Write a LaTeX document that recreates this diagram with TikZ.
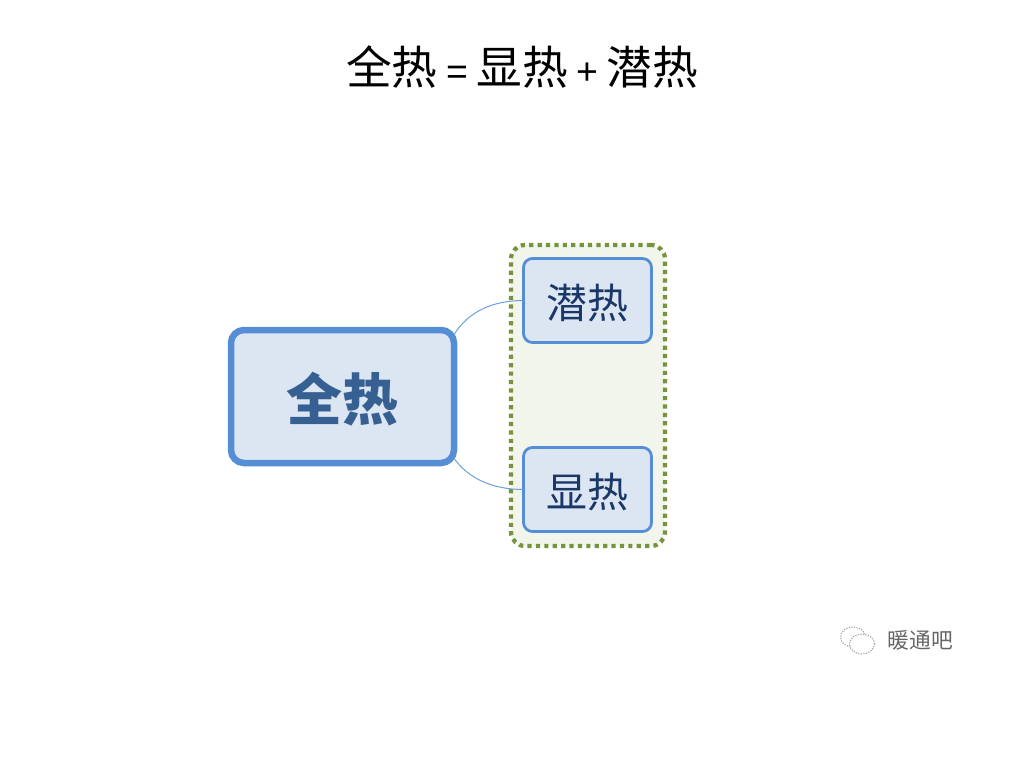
\documentclass[tikz,border=0pt]{standalone}
\usepackage{fontspec}
\setmainfont{Liberation Sans}
\newfontfamily\cjk{Noto Sans CJK SC}
\definecolor{boxblue}{HTML}{558ED5}
\definecolor{boxfill}{HTML}{DCE6F2}
\definecolor{groupgreen}{HTML}{77933C}
\definecolor{groupfill}{HTML}{F2F5EC}
\definecolor{roottext}{HTML}{376092}
\definecolor{leaftext}{HTML}{1A3768}
\tikzset{
  rootbox/.style={draw=boxblue, fill=boxfill, line width=0.065in, rounded corners=0.13in, minimum width=2.23in, minimum height=1.33in, inner sep=0, outer sep=0, text=roottext, text height=0.47in, text depth=0in, font=\cjk\bfseries\fontsize{40.5}{48}\selectfont},
  leafbox/.style={draw=boxblue, fill=boxfill, line width=0.028in, rounded corners=0.09in, minimum width=1.28in, minimum height=0.84in, inner sep=0, outer sep=0, text=leaftext, text height=0.35in, text depth=0in, font=\cjk\fontsize{29.6}{36}\selectfont},
  groupbox/.style={draw=groupgreen, fill=groupfill, line width=0.042in, dash pattern=on 0.042in off 0.042in, rounded corners=0.14in, minimum width=1.54in, minimum height=3.01in, inner sep=0, outer sep=0},
  linkline/.style={draw=boxblue!85, line width=0.01in}
}
\newcommand{\titlegap}{\hspace{0.085in}}
\newcommand{\titlecjk}[1]{{\cjk\fontsize{33}{40}\selectfont #1}}
\begin{document}
\begin{tikzpicture}[x=1in,y=1in]
\useasboundingbox (0,-7.68) rectangle (10.24,0);
\node[font=\fontsize{27}{40}\selectfont] (title) at (5.22,-0.67) {\titlecjk{全热}\titlegap=\titlegap\titlecjk{显热}\titlegap+\titlegap\titlecjk{潜热}};
\node[groupbox] (group) at (5.88,-3.955) {};
\node[rootbox] (root) at (3.425,-3.965) {全热};
\node[leafbox] (latent) at (5.875,-3.005) {潜热};
\node[leafbox] (sensible) at (5.875,-4.895) {显热};
\draw[linkline] (root.29) .. controls (4.68,-3.12) and (4.92,-3.005) .. (latent.west);
\draw[linkline] (root.-29) .. controls (4.68,-4.78) and (4.92,-4.895) .. (sensible.west);
\draw[black!35, line width=0.012in, densely dotted] (8.53,-6.37) ellipse (0.125 and 0.1);
\draw[black!35, fill=white, line width=0.012in, densely dotted] (8.62,-6.44) ellipse (0.125 and 0.1);
\node[font=\cjk\fontsize{15.7}{19}\selectfont, text=black!60] (mark) at (9.205,-6.405) {暖通吧};
\end{tikzpicture}
\end{document}
